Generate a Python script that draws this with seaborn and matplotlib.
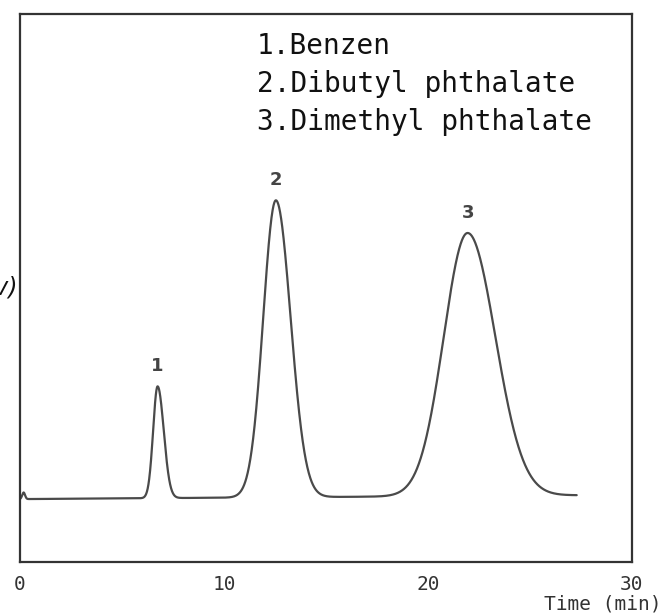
import numpy as np
import pandas as pd
import seaborn as sns
import matplotlib
matplotlib.use("Agg")
import matplotlib.pyplot as plt

# Peak table of the chromatogram (time in min, signal in mV)
peak_ids = ["1", "2", "3"]
compounds = ["Benzen", "Dibutyl phthalate", "Dimethyl phthalate"]
retention_times = [6.75, 12.55, 21.95]
peak_heights = [20.4, 54.2, 48.0]
sigma_front = [0.22, 0.62, 1.17]
sigma_tail = [0.30, 0.72, 1.36]

# Detector baseline (start / end of run) and injection blip
run_start, run_end = 0.0, 27.3
baseline_start, baseline_end = 11.5, 12.2
injection_time, injection_height = 0.18, 1.2

x_ticks = [0, 10, 20, 30]
y_ticks = [50]

t = np.linspace(run_start, run_end, 3000)
signal = baseline_start + (baseline_end - baseline_start) * (t - run_start) / (run_end - run_start)
signal += injection_height * np.exp(-0.5 * ((t - injection_time) / 0.07) ** 2)
for rt, h, sf, st in zip(retention_times, peak_heights, sigma_front, sigma_tail):
    s = np.where(t < rt, sf, st)
    signal += h * np.exp(-0.5 * ((t - rt) / s) ** 2)
trace = pd.DataFrame({"time": t, "signal": signal})

sns.set_theme(style="white")
plt.rcParams["font.family"] = ["DejaVu Sans Mono", "DejaVu Sans"]

fig = plt.figure(figsize=(6.65, 6.15), dpi=100)
ax = fig.add_axes([0.030, 0.086, 0.920, 0.891])

sns.lineplot(data=trace, x="time", y="signal", ax=ax, color="#4a4a4a", linewidth=1.6)

ax.set_xlim(0, 30)
ax.set_ylim(0, 100)
ax.set_xticks(x_ticks)
ax.set_xticklabels([str(v) for v in x_ticks], fontsize=14, color="#333333")
ax.set_yticks(y_ticks)
ax.set_yticklabels([])
ax.tick_params(axis="x", direction="in", length=7, width=1.2, color="#333333", pad=9)
ax.tick_params(axis="y", direction="inout", length=9, width=1.0, color="#555555")
ax.set_xlabel("")
ax.set_ylabel("")
for sp in ax.spines.values():
    sp.set_color("#333333")
    sp.set_linewidth(1.6)

# Peak numbers above each apex
for pid, rt in zip(peak_ids, retention_times):
    apex = np.interp(rt, t, signal)
    ax.annotate(pid, (rt, apex), xytext=(0, 8), textcoords="offset points",
                ha="center", va="bottom", fontsize=13, fontweight="bold",
                family="DejaVu Sans", color="#444444")

# Compound list
for i, (pid, name) in enumerate(zip(peak_ids, compounds)):
    fig.text(0.386, 1 - (46 + 38 * i) / 615, f"{pid}.{name}", fontsize=20,
             ha="left", va="center", color="#111111")

fig.text(0.995, 1 - 604 / 615, "Time (min)", fontsize=14, ha="right", va="center",
         color="#333333")
fig.text(0.026, 1 - 287 / 615, "(mv)", fontsize=17, ha="right", va="center",
         family="DejaVu Sans", style="italic", color="#111111")

fig.savefig("out.png", dpi=100)
